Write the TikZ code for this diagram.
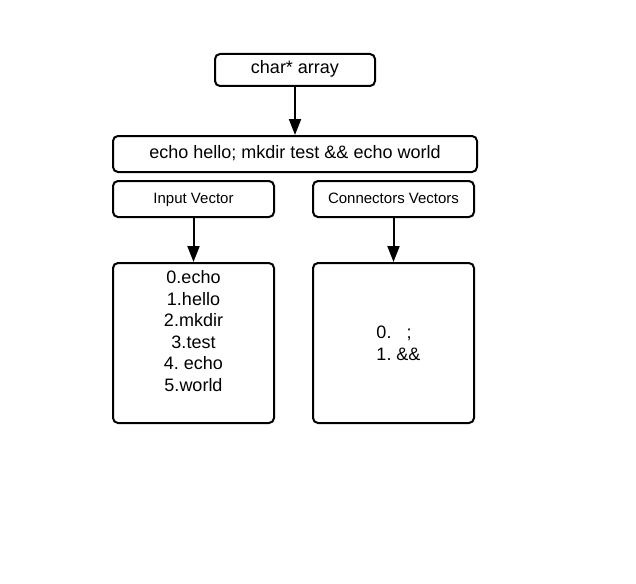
\documentclass[tikz,border=0pt]{standalone}
\usepackage{fontspec}
\setmainfont{Liberation Sans}
\usetikzlibrary{arrows.meta}
\frenchspacing
\begin{document}
\begin{tikzpicture}[x=1pt,y=-1pt]
 \tikzset{directed/.style={-{Triangle[length=16pt,width=12pt]}, line width=2pt}}
 \tikzset{box/.style={draw, line width=2pt, rounded corners=5pt, align=center, inner sep=0pt, text height=0.8em, text depth=0pt}}
  \useasboundingbox (0,0) rectangle (636,583);
  \node[box, minimum width=160pt, minimum height=32pt, font=\fontsize{18}{21.6}\selectfont] (A) at (295,70) {char* array};
  \node[box, minimum width=364pt, minimum height=36pt, font=\fontsize{18}{21.6}\selectfont] (C) at (295,154) {echo hello; mkdir test \&\& echo world};
  \node[box, minimum width=161pt, minimum height=36pt, font=\fontsize{15}{18}\selectfont] (I) at (193.5,199) {Input Vector};
  \node[box, minimum width=161pt, minimum height=36pt, font=\fontsize{15}{18}\selectfont] (V) at (393.5,199) {Connectors Vectors};
  \node[box, minimum width=161pt, minimum height=160pt] (IL) at (193.5,343) {};
  \node[box, minimum width=161pt, minimum height=160pt] (VL) at (393.5,343) {};
  \node[align=center, font=\fontsize{18}{21.6}\selectfont] (IT) at (193.5,331) {0.echo\\1.hello\\2.mkdir\\3.test\\4. echo\\5.world};
  \node[align=left, font=\fontsize{18}{21.6}\selectfont, xshift=5pt] (VT) at (VL.center) {0.\ \ \ ;\\1. \&\&};
  \draw[directed] (A) -- (C);
  \draw[directed] (I) -- (IL);
  \draw[directed] (V) -- (VL);
\end{tikzpicture}
\end{document}
